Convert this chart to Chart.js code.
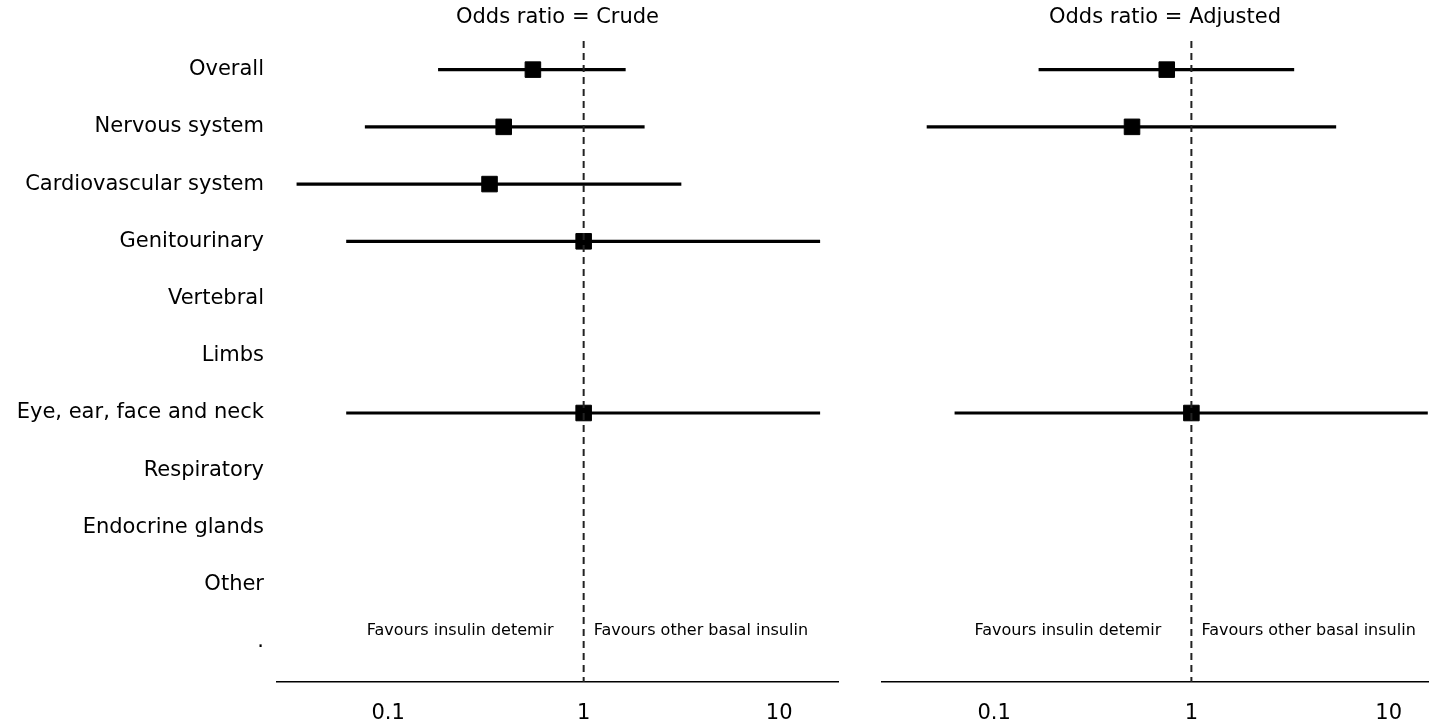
<!DOCTYPE html>
<html>
<head>
<meta charset="utf-8">
<script src="https://cdn.jsdelivr.net/npm/chart.js@4"></script>
<style>
  html, body { margin: 0; padding: 0; background: #fff; overflow: hidden; }
  #wrap { position: relative; width: 1429px; height: 723px; }
  .panel { position: absolute; top: 0; height: 723px; }
  #leftPanel { left: 0; width: 850px; }
  #rightPanel { left: 870px; width: 590px; }
</style>
</head>
<body>
<div id="wrap">
  <div class="panel" id="leftPanel"><canvas id="crudeChart"></canvas></div>
  <div class="panel" id="rightPanel"><canvas id="adjustedChart"></canvas></div>
</div>
<script>
// Forest plot data
const rowLabels = ['Overall', 'Nervous system', 'Cardiovascular system', 'Genitourinary', 'Vertebral',
    'Limbs', 'Eye, ear, face and neck', 'Respiratory', 'Endocrine glands', 'Other', '.'];

// Crude odds ratios (null = no estimate)
const crudeOR    = [0.55, 0.39, 0.33, 1.0, null, null, 1.0, null, null, null, null];
const crudeLower = [0.18, 0.076, 0.034, 0.061, null, null, 0.061, null, null, null, null];
const crudeUpper = [1.64, 2.05, 3.16, 16.2, null, null, 16.2, null, null, null, null];

// Adjusted odds ratios
const adjOR    = [0.75, 0.50, null, null, null, null, 1.0, null, null, null, null];
const adjLower = [0.168, 0.0455, null, null, null, null, 0.063, null, null, null, null];
const adjUpper = [3.32, 5.42, null, null, null, null, 15.8, null, null, null, null];

const xTicks = [0.1, 1, 10];
const xMin = 0.027, xMax = 20;
const yMin = -0.5, yMax = 10.7;
const favourLeft = 'Favours insulin detemir';
const favourRight = 'Favours other basal insulin';

function buildDatasets(or, lo, hi) {
    const ds = [];
    // reference line at OR = 1
    ds.push({
        type: 'line',
        data: [{ x: 1, y: yMin }, { x: 1, y: yMax }],
        borderColor: '#222',
        borderWidth: 2,
        borderDash: [7, 5],
        pointRadius: 0
    });
    // confidence intervals
    or.forEach((v, i) => {
        if (lo[i] == null) return;
        ds.push({
            type: 'line',
            data: [{ x: lo[i], y: i }, { x: hi[i], y: i }],
            borderColor: '#000',
            borderWidth: 3.2,
            pointRadius: 0
        });
    });
    // point estimates
    ds.push({
        type: 'scatter',
        data: or.map((v, i) => v == null ? null : { x: v, y: i }).filter(p => p),
        pointStyle: 'rect',
        pointRadius: 11,
        backgroundColor: '#000',
        borderColor: '#000',
        borderWidth: 1
    });
    return ds;
}

// Title and "favours" labels
const textPlugin = {
    id: 'forestText',
    afterDraw(chart, args, opts) {
        const { ctx, chartArea, scales } = chart;
        const x1 = scales.x.getPixelForValue(1);
        ctx.save();
        ctx.fillStyle = '#000';
        ctx.textBaseline = 'middle';
        ctx.font = '21px "DejaVu Sans"';
        ctx.textAlign = 'center';
        ctx.fillText(opts.title, (chartArea.left + chartArea.right) / 2, 18);
        const fy = scales.y.getPixelForValue(9.8);
        ctx.font = '16px "DejaVu Sans"';
        ctx.textAlign = 'right';
        ctx.fillText(favourLeft, x1 - 30, fy);
        ctx.textAlign = 'left';
        ctx.fillText(favourRight, x1 + 10, fy);
        ctx.restore();
    }
};

function makeChart(id, or, lo, hi, title, showLabels) {
    const ctx = document.getElementById(id).getContext('2d');
    return new Chart(ctx, {
        data: { datasets: buildDatasets(or, lo, hi) },
        plugins: [textPlugin],
        options: {
            responsive: true,
            maintainAspectRatio: false,
            animation: false,
            layout: { padding: { top: 41, bottom: 0, left: showLabels ? 0 : 10, right: 10 } },
            plugins: {
                legend: { display: false },
                tooltip: { enabled: false },
                forestText: { title: title }
            },
            scales: {
                x: {
                    type: 'logarithmic',
                    min: xMin,
                    max: xMax,
                    afterBuildTicks: axis => { axis.ticks = xTicks.map(v => ({ value: v })); },
                    afterFit: axis => { axis.height = 41; },
                    ticks: {
                        color: '#000',
                        font: { family: 'DejaVu Sans', size: 21 },
                        padding: 9,
                        autoSkip: false,
                        maxRotation: 0,
                        callback: v => String(v)
                    },
                    grid: { display: false, drawOnChartArea: false, drawTicks: true, tickLength: 10, tickColor: '#000', tickWidth: 1.5 },
                    border: { display: true, color: '#000', width: 1.5 }
                },
                y: {
                    type: 'linear',
                    reverse: true,
                    min: yMin,
                    max: yMax,
                    display: showLabels,
                    afterBuildTicks: axis => { axis.ticks = rowLabels.map((l, i) => ({ value: i })); },
                    afterFit: axis => { if (showLabels) axis.width = 277; },
                    ticks: {
                        color: '#000',
                        font: { family: 'DejaVu Sans', size: 21 },
                        padding: 13,
                        autoSkip: false,
                        callback: v => rowLabels[v]
                    },
                    grid: { display: false, drawTicks: false },
                    border: { display: false }
                }
            }
        }
    });
}

makeChart('crudeChart', crudeOR, crudeLower, crudeUpper, 'Odds ratio = Crude', true);
makeChart('adjustedChart', adjOR, adjLower, adjUpper, 'Odds ratio = Adjusted', false);
</script>
</body>
</html>
